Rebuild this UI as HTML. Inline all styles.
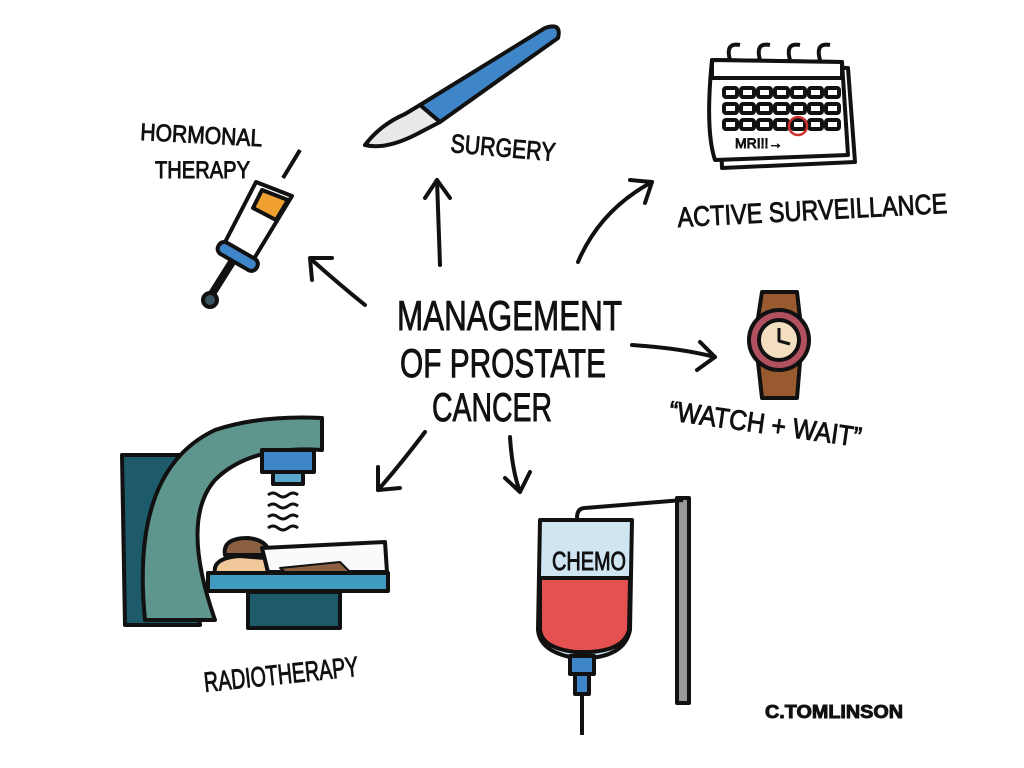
<!DOCTYPE html>
<html><head><style>
html,body{margin:0;padding:0;background:#fff;}
svg{display:block}
text{font-family:"Liberation Sans Narrow","Liberation Sans",sans-serif;fill:#111;stroke:#111;stroke-width:0.9;}
</style></head><body>
<svg width="1024" height="768" viewBox="0 0 1024 768" xmlns="http://www.w3.org/2000/svg">
<g stroke="#111" stroke-width="4" stroke-linecap="round" stroke-linejoin="round" fill="none">
<path d="M365 305 Q340 285 312 260"/><path d="M312 280 L310 258 L332 258"/>
<path d="M440 265 L437 180"/><path d="M425 198 L437 180 L450 198"/>
<path d="M578 262 Q600 210 652 182"/><path d="M630 180 L652 182 L645 203"/>
<path d="M632 345 Q680 348 715 357"/><path d="M700 342 L715 357 L697 370"/>
<path d="M425 432 Q400 465 378 490"/><path d="M378 467 L378 490 L400 488"/>
<path d="M510 437 Q512 470 520 492"/><path d="M505 478 L520 492 L530 472"/>
</g>

<!-- scalpel -->
<g stroke="#111" stroke-width="4" stroke-linejoin="round">
<path d="M420 105 L545 28 Q562 22 558 38 L440 122 Z" fill="#3f86c8"/>
<path d="M420 105 L440 122 L415 135 Q385 150 365 145 Q380 125 405 114 Z" fill="#e8e8e8"/>
</g>
<!-- syringe -->
<g stroke="#111" stroke-width="4" stroke-linejoin="round">
<path d="M283 178 L300 150" fill="none"/>
<path d="M256 182 L292 196 L252 262 L222 248 Z" fill="#fff"/>
<path d="M262 190 L288 200 L276 220 L253 208 Z" fill="#f0a030"/>
<rect x="216" y="250" width="44" height="13" rx="6" transform="rotate(30 238 256)" fill="#3f86c8"/>
<path d="M232 262 L210 297" stroke-width="8"/>
<circle cx="210" cy="300" r="7" fill="#3b5560"/>
</g>
<!-- calendar -->
<g stroke="#111" stroke-width="4" fill="#fff" stroke-linejoin="round">
<path d="M718 65 L848 68 L855 162 L722 168 Z"/>
<path d="M712 60 L842 62 L848 155 L715 160 Q705 130 712 60 Z"/>
<path d="M712 60 L842 62 L842 78 L712 78 Z"/>
<path d="M730 60 q-5 -18 10 -15 M760 60 q-5 -18 10 -15 M790 60 q-5 -18 10 -15 M820 60 q-5 -18 10 -15" fill="none"/>
</g>
<g fill="#fff" stroke="#111" stroke-width="4">
<rect x="724" y="88" width="13" height="9" rx="2"/><rect x="741" y="88" width="13" height="9" rx="2"/><rect x="758" y="88" width="13" height="9" rx="2"/><rect x="775" y="88" width="13" height="9" rx="2"/><rect x="792" y="88" width="13" height="9" rx="2"/><rect x="809" y="88" width="13" height="9" rx="2"/><rect x="826" y="88" width="13" height="9" rx="2"/>
<rect x="724" y="104" width="13" height="9" rx="2"/><rect x="741" y="104" width="13" height="9" rx="2"/><rect x="758" y="104" width="13" height="9" rx="2"/><rect x="775" y="104" width="13" height="9" rx="2"/><rect x="792" y="104" width="13" height="9" rx="2"/><rect x="809" y="104" width="13" height="9" rx="2"/><rect x="826" y="104" width="13" height="9" rx="2"/>
<rect x="724" y="120" width="13" height="9" rx="2"/><rect x="741" y="120" width="13" height="9" rx="2"/><rect x="758" y="120" width="13" height="9" rx="2"/><rect x="775" y="120" width="13" height="9" rx="2"/><rect x="792" y="120" width="13" height="9" rx="2"/><rect x="809" y="120" width="13" height="9" rx="2"/><rect x="826" y="120" width="13" height="9" rx="2"/>
</g>
<circle cx="798" cy="126" r="9" fill="none" stroke="#d03030" stroke-width="2.5"/>
<text x="735" y="148" font-size="14" stroke-width="0.5">MRI!!→</text>

<!-- watch -->
<g stroke="#111" stroke-width="4" stroke-linejoin="round">
<path d="M762 292 L797 292 L800 318 L758 318 Z" fill="#9a5a30"/>
<path d="M758 362 L800 362 L797 398 L762 398 Z" fill="#9a5a30"/>
<circle cx="779" cy="340" r="30" fill="#b05060"/>
<circle cx="779" cy="340" r="20" fill="#f3dfbf"/>
<path d="M779 328 L779 341 L790 344" fill="none" stroke-width="3"/>
</g>

<!-- IV -->
<g stroke="#111" stroke-width="4" stroke-linejoin="round">
<rect x="677" y="498" width="12" height="205" fill="#999"/>
<path d="M585 508 L683 500" fill="none"/>
<path d="M585 508 q-8 0 -8 10 q0 8 8 8" fill="none"/>
<path d="M540 520 L632 520 L630 630 Q625 655 590 658 L575 658 Q540 652 538 630 Z" fill="#cfe6f2"/>
<path d="M540 578 L630 578 L629 630 Q624 650 590 652 L575 652 Q542 648 540 630 Z" fill="#e55050"/>
<rect x="570" y="656" width="24" height="18" fill="#3f86c8"/>
<rect x="575" y="674" width="14" height="20" fill="#3f86c8"/>
<path d="M582 694 L582 735" fill="none"/>
</g>
<text x="552" y="570" font-size="26" textLength="74" lengthAdjust="spacingAndGlyphs">CHEMO</text>

<!-- radiotherapy -->
<g stroke="#111" stroke-width="4" stroke-linejoin="round">
<path d="M122 455 L182 455 L200 625 L125 625 Z" fill="#1d5a6a"/>
<path d="M145 620 Q130 470 215 430 Q260 415 322 418 L322 450 Q250 445 215 480 Q180 520 215 620 Z" fill="#5e958c"/>
<rect x="262" y="450" width="52" height="22" fill="#3f86c8"/>
<rect x="273" y="472" width="30" height="12" fill="#5aa6cc"/>
<path d="M268 495 q5 -4 10 0 t10 0 t10 0 M268 506 q5 -4 10 0 t10 0 t10 0 M268 517 q5 -4 10 0 t10 0 t10 0 M268 528 q5 -4 10 0 t10 0 t10 0" fill="none" stroke-width="3"/>
<rect x="248" y="592" width="92" height="36" fill="#1d5a6a"/>
<rect x="208" y="573" width="180" height="18" fill="#3f9cc0"/>
<path d="M215 573 Q212 558 240 556 L265 558 L268 573 Z" fill="#f0c89a"/>
<path d="M225 555 Q222 538 248 538 Q268 540 270 555 Z" fill="#8a6040"/>
<path d="M262 548 L385 542 L387 572 L268 572 Z" fill="#fafafa"/>
<path d="M280 568 L340 562 L350 572 L285 572 Z" fill="#8a6040" stroke-width="2"/>
</g>

<!-- text -->
<text x="397" y="330" font-size="42" stroke-width="1.4" textLength="225" lengthAdjust="spacingAndGlyphs">MANAGEMENT</text>
<text x="400" y="377" font-size="40" stroke-width="1.4" textLength="206" lengthAdjust="spacingAndGlyphs">OF PROSTATE</text>
<text x="432" y="421" font-size="40" stroke-width="1.4" textLength="120" lengthAdjust="spacingAndGlyphs">CANCER</text>
<text x="140" y="140" font-size="24" textLength="122" lengthAdjust="spacingAndGlyphs" transform="rotate(3 140 140)">HORMONAL</text>
<text x="155" y="178" font-size="24" textLength="95" lengthAdjust="spacingAndGlyphs">THERAPY</text>
<text x="450" y="152" font-size="26" textLength="105" lengthAdjust="spacingAndGlyphs" transform="rotate(5 450 152)">SURGERY</text>
<text x="678" y="227" font-size="28" textLength="270" lengthAdjust="spacingAndGlyphs" transform="rotate(-3 678 227)">ACTIVE SURVEILLANCE</text>
<text x="668" y="420" font-size="28" textLength="194" lengthAdjust="spacingAndGlyphs" transform="rotate(8 668 420)">“WATCH + WAIT”</text>
<text x="205" y="692" font-size="28" textLength="155" lengthAdjust="spacingAndGlyphs" transform="rotate(-6 205 692)">RADIOTHERAPY</text>
<text x="765" y="718" font-size="18" font-weight="bold" stroke-width="0.3" textLength="138" lengthAdjust="spacingAndGlyphs">C.TOMLINSON</text>
</svg>
</body></html>
